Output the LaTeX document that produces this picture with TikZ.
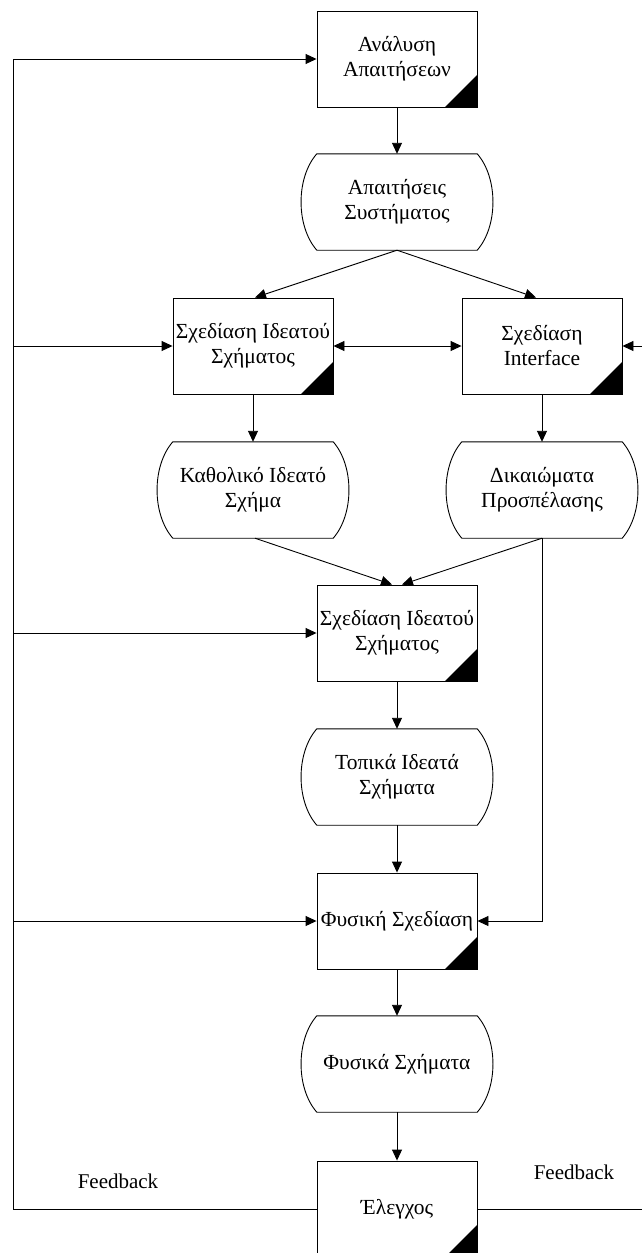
\documentclass[tikz,border=0pt]{standalone}
\usepackage{fontspec}
\setmainfont{Liberation Serif}
\usetikzlibrary{arrows.meta,calc}

\tikzset{
  stagebox/.style={draw, line width=0.9pt, minimum width=160pt, minimum height=96pt,
    inner sep=1pt, align=center, font=\fontsize{21.5}{25}\selectfont,
    path picture={\fill (path picture bounding box.south east) -- ++(-32pt,0pt)
      -- ++(32pt,32pt) -- cycle;}},
  storenode/.style={minimum width=160pt, minimum height=96pt, inner sep=1pt,
    align=center, font=\fontsize{21.5}{25}\selectfont},
  flow/.style={line width=0.9pt, -{Triangle[length=11pt,width=10pt]}},
  twoway/.style={line width=0.9pt, {Triangle[length=11pt,width=10pt]}-{Triangle[length=11pt,width=10pt]}},
  note/.style={font=\fontsize{21}{25}\selectfont, inner sep=0pt}
}

% outline of a stored-data node: flat top and bottom, bulging sides
\newcommand{\storeoutline}[1]{%
  \draw[line width=0.9pt] (#1.north west) -- (#1.north east)
    .. controls +(21,24) and +(21,-24) .. (#1.south east)
    -- (#1.south west)
    .. controls +(-21,-24) and +(-21,24) .. (#1.north west) -- cycle;}

\begin{document}
\begin{tikzpicture}[x=1pt, y=-1pt]
  \useasboundingbox (0,0) rectangle (642,1253);
  \clip (0,0) rectangle (642,1253);

  % process boxes
  \node[stagebox] (a1) at (397,59)   {Ανάλυση\\Απαιτήσεων};
  \node[stagebox] (b2) at (253,346)  {Σχεδίαση Ιδεατού\\Σχήματος};
  \node[stagebox] (b3) at (542,346)  {Σχεδίαση\\Interface};
  \node[stagebox] (b4) at (397,633)  {Σχεδίαση Ιδεατού\\Σχήματος};
  \node[stagebox] (b5) at (397,921)  {Φυσική Σχεδίαση};
  \node[stagebox] (b6) at (397,1209) {Έλεγχος};

  % stored results
  \node[storenode] (t1) at (397,202)  {Απαιτήσεις\\Συστήματος};
  \node[storenode] (t2) at (253,490)  {Καθολικό Ιδεατό\\Σχήμα};
  \node[storenode] (t3) at (542,490)  {Δικαιώματα\\Προσπέλασης};
  \node[storenode] (t4) at (397,777)  {Τοπικά Ιδεατά\\Σχήματα};
  \node[storenode] (t5) at (397,1064) {Φυσικά Σχήματα};
  \foreach \n in {t1,t2,t3,t4,t5} {\storeoutline{\n}}

  % feedback rails
  \coordinate (fbL) at (13,0);
  \coordinate (fbR) at (660,0);

  % main flow
  \draw[flow] (a1) -- (t1);
  \draw[flow] (t1.south) -- ([xshift=2pt]b2.north);
  \draw[flow] (t1.south) -- ([xshift=-6pt]b3.north);
  \draw[twoway] (b2.east) -- (b3.west);
  \draw[flow] (b2) -- (t2);
  \draw[flow] (b3) -- (t3);
  \draw[flow] ([xshift=2pt]t2.south) -- ([xshift=-5pt]b4.north);
  \draw[flow] (t3.south) -- ([xshift=5pt]b4.north);
  \draw[flow] (b4) -- (t4);
  \draw[flow] (t4) -- (b5);
  \draw[flow] (t3.south) |- (b5.east);
  \draw[flow] (b5) -- (t5);
  \draw[flow] (t5) -- (b6);

  % feedback to the left
  \draw[flow] (b6.west) -- (b6.west -| fbL) |- (a1.west);
  \draw[flow] (b2.west -| fbL) -- (b2.west);
  \draw[flow] (b4.west -| fbL) -- (b4.west);
  \draw[flow] (b5.west -| fbL) -- (b5.west);

  % feedback to the right
  \draw[flow] (b6.east) -- (b6.east -| fbR) |- (b3.east);

  \node[note] (fl) at (118,1181) {Feedback};
  \node[note] (fr) at (574,1172) {Feedback};
\end{tikzpicture}
\end{document}
